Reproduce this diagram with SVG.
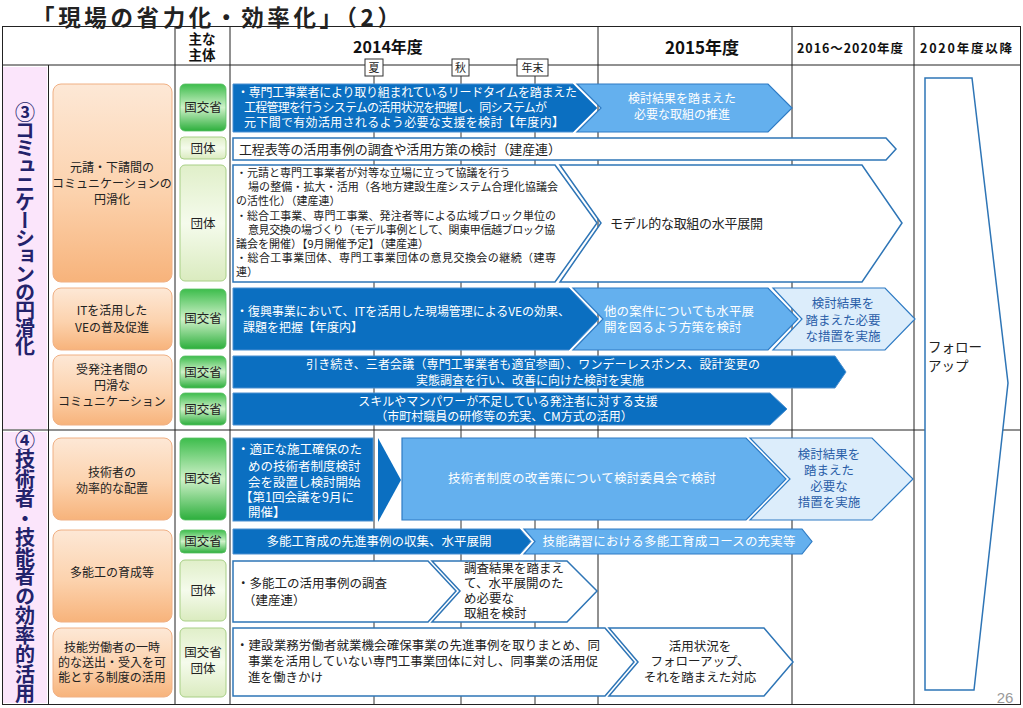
<svg xmlns="http://www.w3.org/2000/svg" width="1023" height="708" viewBox="0 0 1023 708">
<defs>
<linearGradient id="og" x1="0" y1="0" x2="0" y2="1">
<stop offset="0" stop-color="#fde8d6"/><stop offset="0.55" stop-color="#fcd2ad"/><stop offset="1" stop-color="#f7b37b"/>
</linearGradient>
<linearGradient id="gg" x1="0" y1="0" x2="0" y2="1">
<stop offset="0" stop-color="#3dbd4c"/><stop offset="0.5" stop-color="#cff1c9"/><stop offset="1" stop-color="#2caf3c"/>
</linearGradient>
<linearGradient id="lg" x1="0" y1="0" x2="0" y2="1">
<stop offset="0" stop-color="#e0efc9"/><stop offset="0.5" stop-color="#f5fbec"/><stop offset="1" stop-color="#daebbf"/>
</linearGradient>
</defs>
<style>
text{font-family:"Noto Sans CJK JP","Noto Sans CJK SC",sans-serif;fill:#222}
.c{text-anchor:middle}
.s{font-size:11px}
.m{font-size:12px}
.l{font-size:12.5px}
.wt{fill:#fff}
.bt{fill:#2a5ea8}
.db{fill:#0b6fc1;stroke:#4a8fd0;stroke-width:1}
.lb{fill:#64b0ee;stroke:#2e7bc4;stroke-width:1.2}
.xb{fill:#dcedfb;stroke:#2e7bc4;stroke-width:1.2}
.wb{fill:#fff;stroke:#2e75b6;stroke-width:1.5}
.ob{fill:url(#og);stroke:#f0b084;stroke-width:1}
.gd{fill:url(#gg);stroke:#5cbf66;stroke-width:0.8}
.gl{fill:url(#lg);stroke:#a8cf86;stroke-width:1}
.gr{stroke:#222;stroke-width:1;fill:none}
.tl{stroke:#333;stroke-width:1}
.mk{fill:#fff;stroke:#333;stroke-width:1}
.vl{font-size:20px;font-weight:bold;fill:#23226b;writing-mode:vertical-rl}
.hd{font-weight:bold;fill:#111}
</style>
<rect width="1023" height="708" fill="#fff"/>
<text x="32" y="25.8" font-size="22.5" font-weight="bold" fill="#111" textLength="368" lengthAdjust="spacing">「現場の省力化・効率化」（2）</text>

<g id="table">
<rect x="3" y="67" width="44" height="362" fill="#fbe5fb"/>
<rect x="3" y="432" width="44" height="271" fill="#fbe5fb"/>
<line class="gr" x1="2" y1="65" x2="1021" y2="65"/>
<line class="gr" x1="48.5" y1="65" x2="48.5" y2="705" stroke-width="2"/>
<line class="gr" x1="175" y1="26" x2="175" y2="705"/>
<line class="gr" x1="230" y1="26" x2="230" y2="705"/>
<line class="gr" x1="598" y1="26" x2="598" y2="705"/>
<line class="gr" x1="792" y1="26" x2="792" y2="705"/>
<line class="gr" x1="914" y1="26" x2="914" y2="705"/>
<line class="gr" x1="2" y1="430" x2="1021" y2="430" stroke-width="3"/>
<rect class="gr" x="2.5" y="26.5" width="1018" height="678" stroke-width="2.5"/>
</g>

<g id="header">
<text x="202" y="44" class="c hd" font-size="13.5">主な</text>
<text x="202" y="60" class="c hd" font-size="13.5">主体</text>
<text x="388" y="53" class="c hd" font-size="16">2014年度</text>
<text x="702" y="54" class="c hd" font-size="17">2015年度</text>
<text x="850" y="53" class="c hd" font-size="12.5" textLength="106" lengthAdjust="spacing">2016～2020年度</text>
<text x="966" y="53" class="c hd" font-size="12.5" textLength="92" lengthAdjust="spacing">2020年度以降</text>
</g>

<g id="timeline">
<line class="tl" x1="374" y1="76" x2="374" y2="704"/>
<line class="tl" x1="461" y1="76" x2="461" y2="704"/>
<line class="tl" x1="535" y1="76" x2="535" y2="704"/>
<rect class="mk" x="365" y="59" width="18" height="17"/>
<text x="374" y="72" class="c" font-size="11">夏</text>
<rect class="mk" x="452" y="59" width="17" height="17"/>
<text x="460.5" y="72" class="c" font-size="11">秋</text>
<rect class="mk" x="517" y="59" width="31" height="17"/>
<text x="532.5" y="72" class="c" font-size="11">年末</text>
</g>

<g id="section3-label"><text x="25" y="102" class="vl" style="letter-spacing:-2px">③コミュニケーションの円滑化</text></g>
<g id="section4-label"><text x="25" y="430" class="vl" style="letter-spacing:-0.5px">④技術者・技能者の効率的活用</text></g>

<g id="item-motouke">
<rect class="ob" x="53" y="84" width="119" height="198" rx="8"/>
<text x="112" y="172" class="c m">元請・下請間の</text>
<text x="112" y="188" class="c m">コミュニケーションの</text>
<text x="112" y="204" class="c m">円滑化</text>
</g>
<g id="item-it">
<rect class="ob" x="53" y="288" width="119" height="62" rx="8"/>
<text x="112" y="315" class="c m">ITを活用した</text>
<text x="112" y="332" class="c m">VEの普及促進</text>
</g>
<g id="item-juhatchu">
<rect class="ob" x="53" y="355" width="119" height="70" rx="8"/>
<text x="112" y="374" class="c m">受発注者間の</text>
<text x="112" y="390" class="c m">円滑な</text>
<text x="112" y="406" class="c m">コミュニケーション</text>
</g>
<g id="item-gijutsusha">
<rect class="ob" x="53" y="438" width="119" height="82" rx="8"/>
<text x="112" y="477" class="c m">技術者の</text>
<text x="112" y="493" class="c m">効率的な配置</text>
</g>
<g id="item-tanoukou">
<rect class="ob" x="53" y="530" width="119" height="92" rx="8"/>
<text x="112" y="577" class="c m">多能工の育成等</text>
</g>
<g id="item-ginou">
<rect class="ob" x="53" y="628" width="119" height="69" rx="8"/>
<text x="112" y="652" class="c m">技能労働者の一時</text>
<text x="112" y="667" class="c m">的な送出・受入を可</text>
<text x="112" y="682" class="c m">能とする制度の活用</text>
</g>

<g id="actor-a"><rect class="gd" x="180" y="84" width="46" height="47" rx="5"/><text x="203" y="112" class="c l">国交省</text></g>
<g id="actor-b"><rect class="gl" x="180" y="137" width="46" height="22" rx="4"/><text x="203" y="153" class="c l">団体</text></g>
<g id="actor-c"><rect class="gl" x="180" y="165" width="46" height="116" rx="5"/><text x="203" y="228" class="c l">団体</text></g>
<g id="actor-d"><rect class="gd" x="180" y="289" width="46" height="60" rx="5"/><text x="203" y="323" class="c l">国交省</text></g>
<g id="actor-e"><rect class="gd" x="180" y="356" width="46" height="32" rx="5"/><text x="203" y="377" class="c l">国交省</text></g>
<g id="actor-f"><rect class="gd" x="180" y="393" width="46" height="32" rx="5"/><text x="203" y="414" class="c l">国交省</text></g>
<g id="actor-g"><rect class="gd" x="180" y="438" width="46" height="82" rx="5"/><text x="203" y="483" class="c l">国交省</text></g>
<g id="actor-h"><rect class="gd" x="180" y="530" width="46" height="23" rx="4"/><text x="203" y="546" class="c l">国交省</text></g>
<g id="actor-i"><rect class="gl" x="180" y="560" width="46" height="61" rx="5"/><text x="203" y="595" class="c l">団体</text></g>
<g id="actor-j"><rect class="gl" x="180" y="628" width="46" height="69" rx="5"/><text x="203" y="657" class="c l">国交省</text><text x="203" y="673" class="c l">団体</text></g>

<g id="a1">
<path class="db" d="M233,84 H573 L597,108 L573,132 H233 Z"/>
<text x="237" y="97" class="m wt" textLength="340" lengthAdjust="spacing">・専門工事業者により取り組まれているリードタイムを踏まえた</text>
<text x="244" y="112" class="m wt" textLength="303" lengthAdjust="spacing">工程管理を行うシステムの活用状況を把握し、同システムが</text>
<text x="244" y="127" class="m wt" textLength="320" lengthAdjust="spacing">元下間で有効活用されるよう必要な支援を検討【年度内】</text>
</g>
<g id="a2">
<path class="lb" d="M577,84 H768 L792,108 L768,132 H577 L601,108 Z"/>
<text x="682" y="103" class="c m wt">検討結果を踏まえた</text>
<text x="682" y="119" class="c m wt">必要な取組の推進</text>
</g>
<g id="b1">
<path class="wb" d="M233,138 H886 L896,149 L886,160 H233 Z"/>
<text x="239" y="154" font-size="13" textLength="322" lengthAdjust="spacing">工程表等の活用事例の調査や活用方策の検討（建産連）</text>
</g>
<g id="c1">
<path class="wb" d="M233,165 H555 L597,223 L555,282 H233 Z"/>
<text x="236" y="177" class="s">・元請と専門工事業者が対等な立場に立って協議を行う</text>
<text x="248" y="191" class="s" textLength="310" lengthAdjust="spacing">場の整備・拡大・活用（各地方建設生産システム合理化協議会</text>
<text x="236" y="205" class="s">の活性化）（建産連）</text>
<text x="236" y="220" class="s" textLength="320" lengthAdjust="spacing">・総合工事業、専門工事業、発注者等による広域ブロック単位の</text>
<text x="248" y="234" class="s" textLength="307" lengthAdjust="spacing">意見交換の場づくり（モデル事例として、関東甲信越ブロック協</text>
<text x="236" y="248" class="s">議会を開催）【9月開催予定】（建産連）</text>
<text x="236" y="262" class="s" textLength="320" lengthAdjust="spacing">・総合工事業団体、専門工事業団体の意見交換会の継続（建専</text>
<text x="236" y="276" class="s">連）</text>
</g>
<g id="c2">
<path class="wb" d="M560,165 H862 L902,223 L862,282 H560 L601,223 Z"/>
<text x="610" y="228" font-size="13" textLength="153" lengthAdjust="spacing">モデル的な取組の水平展開</text>
</g>
<g id="d1">
<path class="db" d="M233,288 H569 L599,319 L569,350 H233 Z"/>
<text x="236" y="316" class="m wt" textLength="334" lengthAdjust="spacing">・復興事業において、ITを活用した現場管理によるVEの効果、</text>
<text x="243" y="332" class="m wt">課題を把握【年度内】</text>
</g>
<g id="d2">
<path class="lb" d="M573,288 H768 L798,319 L768,350 H573 L603,319 Z"/>
<text x="604" y="316" class="l wt" textLength="150" lengthAdjust="spacing">他の案件についても水平展</text>
<text x="604" y="332" class="l wt">開を図るよう方策を検討</text>
</g>
<g id="d3">
<path class="xb" d="M773,288 H885 L915,319 L885,350 H773 L802,319 Z"/>
<text x="843" y="308" class="c l bt">検討結果を</text>
<text x="843" y="325" class="c l bt">踏まえた必要</text>
<text x="843" y="341" class="c l bt">な措置を実施</text>
</g>
<g id="e1">
<path class="db" d="M233,356 H835 L846,372 L835,388 H233 Z"/>
<text x="533" y="369" class="c m wt" textLength="454" lengthAdjust="spacing">引き続き、三者会議（専門工事業者も適宜参画）、ワンデーレスポンス、設計変更の</text>
<text x="530" y="385" class="c m wt">実態調査を行い、改善に向けた検討を実施</text>
</g>
<g id="f1">
<path class="db" d="M233,393 H770 L787,409 L770,425 H233 Z"/>
<text x="508" y="406" class="c m wt">スキルやマンパワーが不足している発注者に対する支援</text>
<text x="504" y="421" class="c m wt">（市町村職員の研修等の充実、CM方式の活用）</text>
</g>
<g id="g1">
<rect class="db" x="233" y="438" width="140" height="83"/>
<text x="237" y="454" class="l wt">・適正な施工確保のた</text>
<text x="248" y="471" class="l wt">めの技術者制度検討</text>
<text x="248" y="487" class="l wt">会を設置し検討開始</text>
<text x="240" y="502" class="l wt">【第1回会議を9月に</text>
<text x="248" y="517" class="l wt">開催】</text>
</g>
<g id="g-arrow"><path d="M378,438 L401,480 L378,522 Z" fill="#0b6fc1"/></g>
<g id="g2">
<path class="lb" d="M402,438 H746 L786,479 L746,520 H402 Z"/>
<text x="582" y="483" class="c l wt" textLength="268" lengthAdjust="spacing">技術者制度の改善策について検討委員会で検討</text>
</g>
<g id="g3">
<path class="xb" d="M750,438 H872 L913,479 L872,520 H750 L790,479 Z"/>
<text x="829" y="459" class="c l bt">検討結果を</text>
<text x="829" y="475" class="c l bt">踏まえた</text>
<text x="829" y="491" class="c l bt">必要な</text>
<text x="829" y="507" class="c l bt">措置を実施</text>
</g>
<g id="h1">
<path class="db" d="M233,529 H520 L531,541.5 L520,554 H233 Z"/>
<text x="379" y="546" class="c l wt">多能工育成の先進事例の収集、水平展開</text>
</g>
<g id="h2">
<path class="lb" d="M524,529 H802 L812,541.5 L802,554 H524 L535,541.5 Z"/>
<text x="669" y="546" class="c l wt" textLength="253" lengthAdjust="spacing">技能講習における多能工育成コースの充実等</text>
</g>
<g id="i1">
<path class="wb" d="M233,561 H428 L456,591 L428,622 H233 Z"/>
<text x="237" y="588" class="l">・多能工の活用事例の調査</text>
<text x="243" y="605" class="l">（建産連）</text>
</g>
<g id="i2">
<path class="wb" d="M432,561 H567 L597,591 L567,622 H432 L460,591 Z"/>
<text x="464" y="573" class="l">調査結果を踏まえ</text>
<text x="464" y="588" class="l">て、水平展開のた</text>
<text x="464" y="603" class="l">め必要な</text>
<text x="464" y="618" class="l">取組を検討</text>
</g>
<g id="j1">
<path class="wb" d="M233,628 H605 L634,662 L605,696 H233 Z"/>
<text x="236" y="650" class="l" textLength="364" lengthAdjust="spacing">・建設業務労働者就業機会確保事業の先進事例を取りまとめ、同</text>
<text x="248" y="666" class="l" textLength="350" lengthAdjust="spacing">事業を活用していない専門工事業団体に対し、同事業の活用促</text>
<text x="248" y="682" class="l">進を働きかけ</text>
</g>
<g id="j2">
<path class="wb" d="M609,628 H764 L793,662 L764,696 H609 L638,662 Z"/>
<text x="700" y="651" class="c l">活用状況を</text>
<text x="700" y="666" class="c l">フォローアップ、</text>
<text x="700" y="682" class="c l">それを踏まえた対応</text>
</g>

<g id="followup">
<path class="wb" d="M925,78 H972 L1008,383 L974,690 H925 Z"/>
<text x="928" y="352" font-size="13.5">フォロー</text>
<text x="928" y="371" font-size="13.5">アップ</text>
</g>
<g id="connectors"></g>
<text x="1005" y="703" class="c" font-size="15" style="fill:#999;font-family:'Liberation Sans',sans-serif">26</text>
</svg>
